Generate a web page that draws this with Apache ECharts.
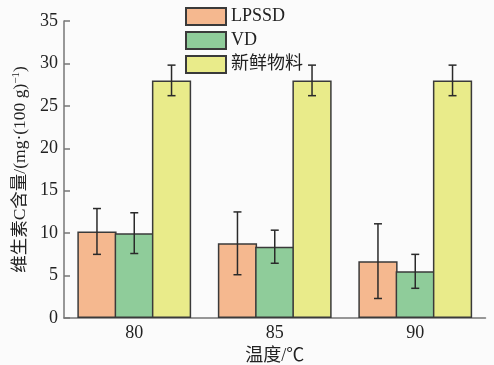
<!DOCTYPE html>
<html><head><meta charset="utf-8">
<script src="https://cdn.jsdelivr.net/npm/echarts@6/dist/echarts.min.js"></script>
<style>html,body{margin:0;padding:0;background:#fbfbfb}#c{width:494px;height:365px}</style>
</head><body><div id="c"></div>
<script>
var categories = ['80', '85', '90'];
var seriesNames = ['LPSSD', 'VD', '新鲜物料'];
var lpssd = [10.2, 8.8, 6.7];
var lpssdErr = [2.7, 3.7, 4.4];
var vd = [10.0, 8.4, 5.5];
var vdErr = [2.4, 1.95, 2.0];
var fresh = [28.0, 28.0, 28.0];
var freshErr = [1.8, 1.8, 1.8];
var colors = ['#F5B88F', '#8FCC9A', '#E9EB8A'];

var FONT = "'Liberation Serif','Noto Sans CJK SC',serif";
var values = [lpssd, vd, fresh];
var errs = [lpssdErr, vdErr, freshErr];
var GAP = -0.05;

var series = [];
values.forEach(function (vals, i) {
  series.push({
    name: seriesNames[i], type: 'bar', data: vals,
    barGap: (GAP * 100) + '%', barCategoryGap: '19%',
    itemStyle: { color: colors[i], borderColor: '#3a3a3a', borderWidth: 1.5 },
    emphasis: { disabled: true }
  });
});
values.forEach(function (vals, i) {
  series.push({
    type: 'custom', z: 10,
    data: vals.map(function (v, k) { return [k, v, errs[i][k]]; }),
    renderItem: function (params, api) {
      var k = api.value(0), v = api.value(1), e = api.value(2);
      var band = api.size([1, 0])[0];
      var grp = band * 0.81;
      var bw = grp / (3 + 2 * GAP);
      var cx = api.coord([k, 0])[0] + (i - 1) * bw * (1 + GAP);
      var top = api.coord([k, v + e])[1];
      var bot = api.coord([k, v - e])[1];
      var cap = 4;
      var st = { stroke: '#2a2a2a', lineWidth: 1.5 };
      return { type: 'group', children: [
        { type: 'line', shape: { x1: cx, y1: top, x2: cx, y2: bot }, style: st },
        { type: 'line', shape: { x1: cx - cap, y1: top, x2: cx + cap, y2: top }, style: st },
        { type: 'line', shape: { x1: cx - cap, y1: bot, x2: cx + cap, y2: bot }, style: st }
      ]};
    }
  });
});

var chart = echarts.init(document.getElementById('c'), null, { renderer: 'canvas' });
chart.setOption({
  backgroundColor: '#fbfbfb',
  animation: false,
  grid: { left: 64, right: 8.5, top: 21, bottom: 47, outerBoundsMode: 'none', containLabel: false },
  legend: {
    data: seriesNames, orient: 'vertical', left: 185, top: 7, padding: 0,
    itemWidth: 40, itemHeight: 17, itemGap: 5, icon: 'rect',
    textStyle: { fontFamily: FONT, fontSize: 18, color: '#222' }
  },
  xAxis: {
    type: 'category', data: categories,
    axisLine: { lineStyle: { color: '#777', width: 1.5 } },
    axisTick: { show: false },
    axisLabel: { fontFamily: FONT, fontSize: 18, color: '#222', margin: 6 },
    name: '温度/℃', nameLocation: 'middle', nameGap: 29,
    nameTextStyle: { fontFamily: FONT, fontSize: 18, color: '#222' }
  },
  yAxis: {
    type: 'value', min: 0, max: 35, interval: 5,
    axisLine: { show: true, lineStyle: { color: '#777', width: 1.5 } },
    axisTick: { show: true, inside: true, length: 6, lineStyle: { color: '#777', width: 1.5 } },
    splitLine: { show: false },
    axisLabel: { fontFamily: FONT, fontSize: 18, color: '#222', margin: 6 },
    name: '{a|维生素C含量/(mg·(100 g)}{s|−1}{a|)}', nameLocation: 'middle', nameGap: 32, nameRotate: 90,
    nameTextStyle: { rich: {
      a: { fontFamily: FONT, fontSize: 17.5, color: '#222', lineHeight: 20 },
      s: { fontFamily: FONT, fontSize: 11, color: '#222', verticalAlign: 'top', lineHeight: 20 }
    } }
  },
  series: series
});
</script></body></html>
